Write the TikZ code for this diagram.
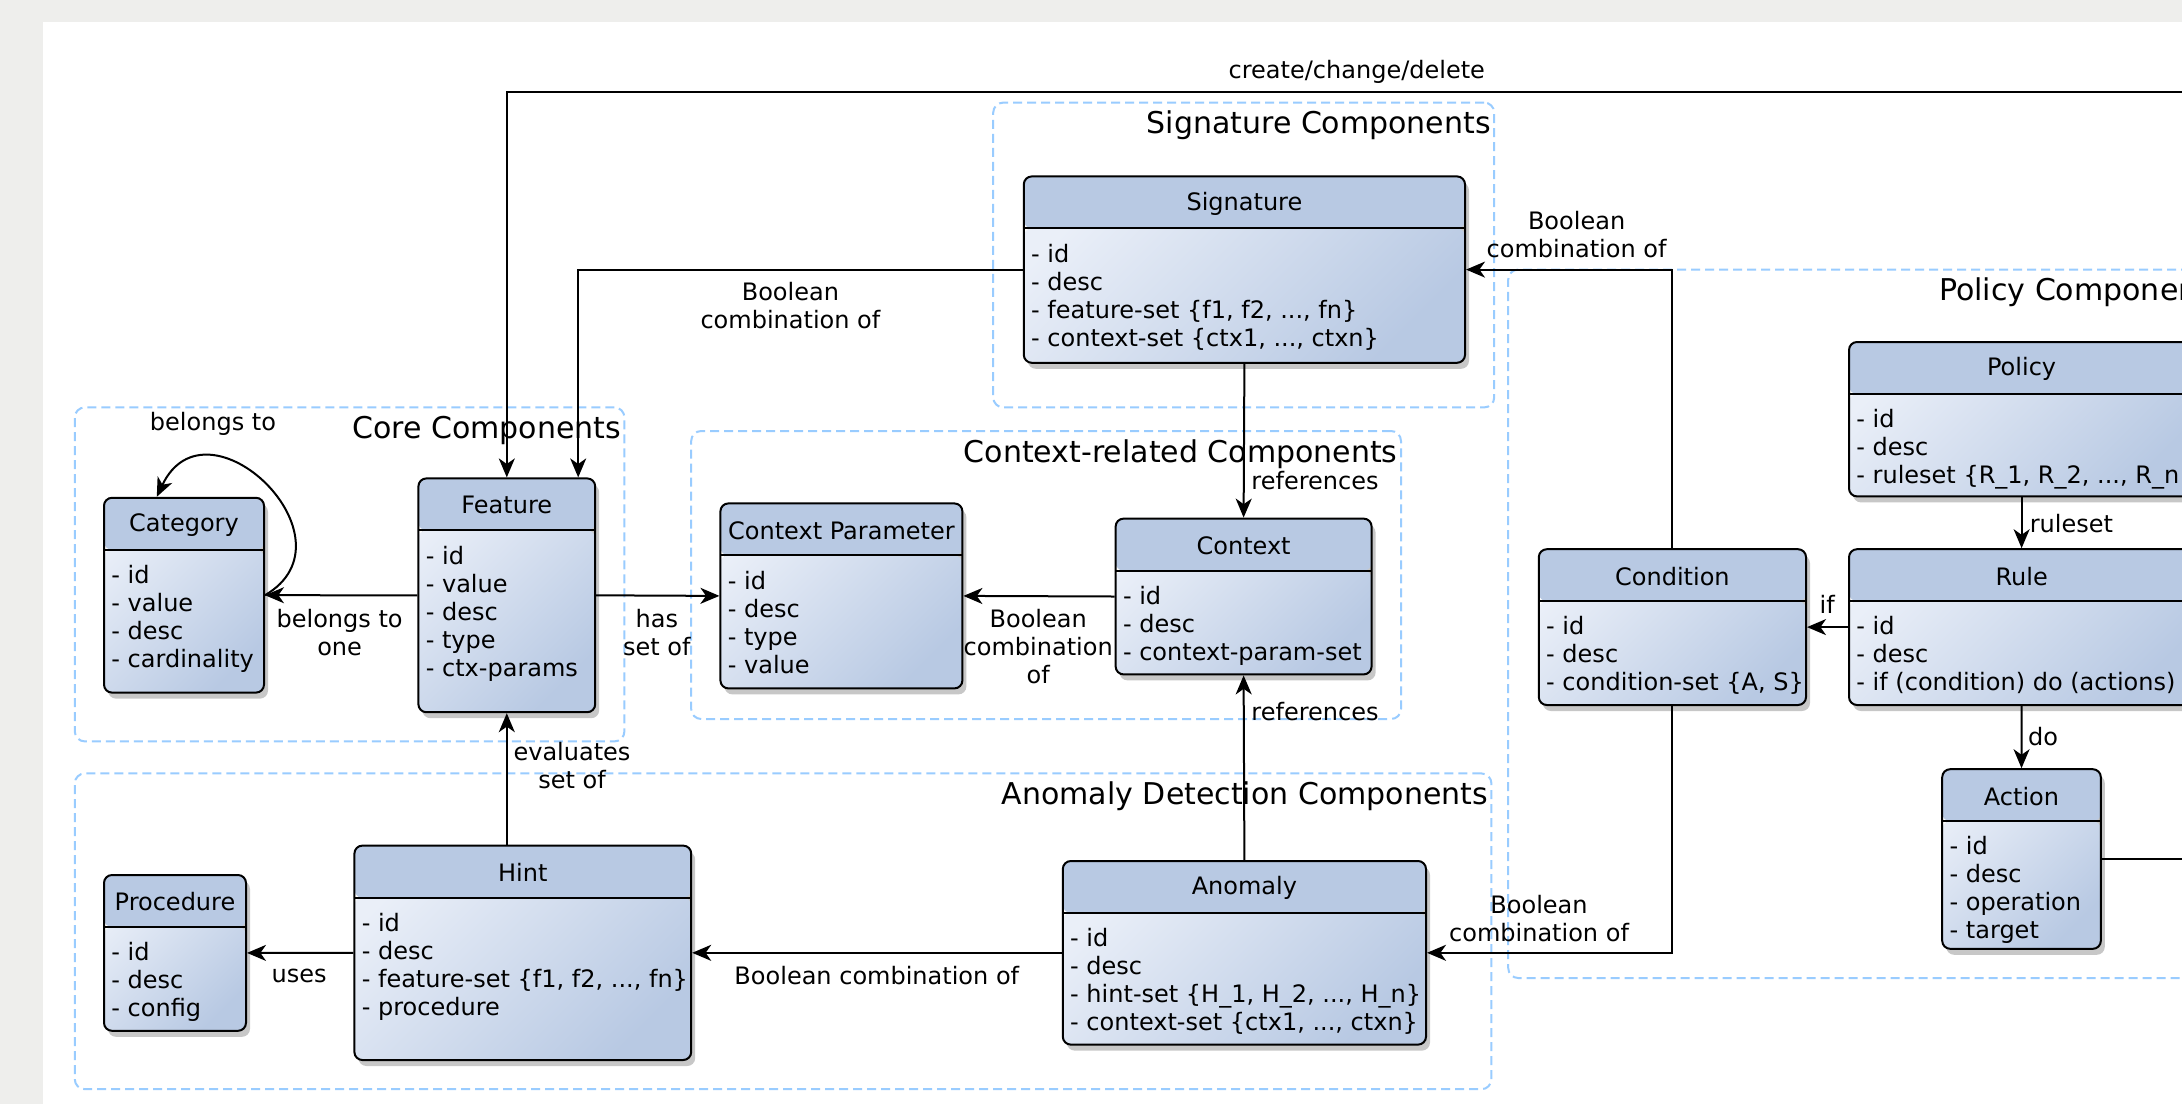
\documentclass[tikz,border=0pt]{standalone}
\usepackage{fontspec}
\setmainfont{DejaVu Sans}
\usetikzlibrary{arrows.meta,shadows}
\definecolor{enthead}{RGB}{184,201,227}
\definecolor{entlight}{RGB}{234,239,248}
\definecolor{grpblue}{RGB}{153,204,255}
\definecolor{pagegray}{RGB}{238,238,236}

\begin{document}
\begin{tikzpicture}[x=1pt,y=-1pt,
  every node/.style={font=\fontsize{12pt}{14pt}\selectfont},
  entbox/.style={anchor=north west, draw, line width=1pt, rounded corners=4pt, inner sep=0pt,
    drop shadow={shadow xshift=2pt, shadow yshift=-3pt, opacity=.22, fill=black},
    path picture={
      \shade[shading=axis, top color=entlight, bottom color=enthead, shading angle=45]
        (path picture bounding box.south west) rectangle ([yshift=-26pt]path picture bounding box.north east);
      \fill[enthead] (path picture bounding box.north west) rectangle ([yshift=-26pt]path picture bounding box.north east);
      \draw[line width=1pt] ([yshift=-26pt]path picture bounding box.north west) -- ([yshift=-26pt]path picture bounding box.north east);
    }},
  enttitle/.style={inner sep=0pt},
  entattr/.style={anchor=north west, align=left, inner sep=0pt},
  grpbox/.style={anchor=north west, draw=grpblue, line width=1pt, dash pattern=on 4.5pt off 2.5pt,
    rounded corners=5pt, inner sep=0pt},
  grptitle/.style={anchor=east, inner sep=0pt, font=\fontsize{15pt}{18pt}\selectfont},
  lbl/.style={align=center, inner sep=0pt, yshift=-1pt},
  rel/.style={line width=1pt, -{Stealth[length=9.5pt,width=8pt,inset=2.8pt]}}
]
\def\entity#1#2#3#4#5#6#7{
  \node[entbox, minimum width=#4pt, minimum height=#5pt] (#1) at (#2,#3) {};
  \node[enttitle] (#1-title) at ([yshift=-14pt]#1.north) {#6};
  \node[entattr] (#1-attr) at ([xshift=4pt,yshift=-34pt]#1.north west) {#7};
}
\def\group#1#2#3#4#5#6{
  \node[grpbox, minimum width=#4pt, minimum height=#5pt] (#1) at (#2,#3) {};
  \node[grptitle] (#1-title) at ([xshift=-2pt,yshift=-12pt]#1.north east) {#6};
}
\useasboundingbox (0,0) rectangle (1091,552);
\clip (0,0) rectangle (1091,552);
\fill[pagegray] (0,0) rectangle (1091,552);
\fill[white] (21.4,11.1) rectangle (1091,552);

\group{sigGrp}{496.1}{50.8}{250.5}{152.4}{Signature Components}
\group{coreGrp}{36.9}{203.2}{274.8}{167}{Core Components}
\group{ctxGrp}{345.1}{215}{354.9}{144}{Context-related Components}
\group{anomGrp}{36.9}{386.2}{708.3}{157.9}{Anomaly Detection Components}
\group{polGrp}{753.6}{134.3}{360}{354.2}{Policy Components}

\entity{sig}{511.4}{87.7}{220.6}{93.2}{Signature}
  {- id\\- desc\\- feature-set \{f1, f2, ..., fn\}\\- context-set \{ctx1, ..., ctxn\}}
\entity{cat}{51.5}{248.4}{80}{97.4}{Category}
  {- id\\- value\\- desc\\- cardinality}
\entity{feat}{208.7}{238.7}{88.4}{116.9}{Feature}
  {- id\\- value\\- desc\\- type\\- ctx-params}
\entity{cpar}{359.7}{251.2}{121}{92.5}{Context Parameter}
  {- id\\- desc\\- type\\- value}
\entity{ctx}{557.3}{258.8}{128}{77.9}{Context}
  {- id\\- desc\\- context-param-set}
\entity{proc}{51.5}{437}{71}{77.9}{Procedure}
  {- id\\- desc\\- config}
\entity{hint}{176.7}{422.3}{168.4}{107.2}{Hint}
  {- id\\- desc\\- feature-set \{f1, f2, ..., fn\}\\- procedure}
\entity{anom}{530.9}{430}{181.6}{91.8}{Anomaly}
  {- id\\- desc\\- hint-set \{H\_1, H\_2, ..., H\_n\}\\- context-set \{ctx1, ..., ctxn\}}
\entity{cond}{768.9}{274.1}{133.6}{77.9}{Condition}
  {- id\\- desc\\- condition-set \{A, S\}}
\entity{pol}{924}{170.5}{172.6}{77.2}{Policy}
  {- id\\- desc\\- ruleset \{R\_1, R\_2, ..., R\_n\}}
\entity{rule}{924}{274.1}{172.6}{77.9}{Rule}
  {- id\\- desc\\- if (condition) do (actions)}
\entity{act}{970.6}{384.1}{79.3}{89.8}{Action}
  {- id\\- desc\\- operation\\- target}

\coordinate (ccd) at (1130,45.9);
\draw[rel] (act.east) -| (ccd) -| (feat.north);
\draw[rel] (sig.west) -| ([xshift=-9pt]feat.north east);
\draw[rel] (cond.north) |- (sig.east);
\draw[rel] (cond.south) |- (anom.east);
\draw[rel] (cat.east) .. controls +(48,-28) and +(25,-53) .. ([xshift=-13.6pt]cat.north);
\draw[rel] (feat.west) -- (cat.east);
\draw[rel] (feat.east) -- (cpar.west);
\draw[rel] (ctx.west) -- (cpar.east);
\draw[rel] (sig.south) -- (ctx.north);
\draw[rel] (anom.north) -- (ctx.south);
\draw[rel] (anom.west) -- (hint.east);
\draw[rel] (hint.west) -- (proc.east);
\draw[rel] (feat.south |- hint.north) -- (feat.south);
\draw[rel] (pol.south) -- (rule.north);
\draw[rel] (rule.west) -- (cond.east);
\draw[rel] (rule.south) -- (act.north);

\node[lbl] (l-ccd) at (678.4,34.8) {create/change/delete};
\node[lbl] (l-sigfeat) at (395.2,151.7) {Boolean\\combination of};
\node[lbl] (l-condsig) at (788.3,116.2) {Boolean\\combination of};
\node[lbl] (l-condanom) at (769.5,458.5) {Boolean\\combination of};
\node[lbl] (l-loop) at (106.5,210.8) {belongs to};
\node[lbl] (l-featcat) at (169.8,315.2) {belongs to\\one};
\node[lbl] (l-featcpar) at (328.4,315.2) {has\\set of};
\node[lbl] (l-ctxcpar) at (519.1,322.2) {Boolean\\combination\\of};
\node[lbl] (l-sigctx) at (657.5,239.4) {references};
\node[lbl] (l-anomctx) at (657.5,354.9) {references};
\node[lbl] (l-hintfeat) at (286,382) {evaluates\\set of};
\node[lbl] (l-hintproc) at (149.6,487) {uses};
\node[lbl] (l-anomhint) at (438.4,487) {Boolean combination of};
\node[lbl] (l-polrule) at (1035.7,260.9) {ruleset};
\node[lbl] (l-rulecond) at (913.6,301.3) {if};
\node[lbl] (l-ruleact) at (1021.5,367.4) {do};
\end{tikzpicture}
\end{document}
